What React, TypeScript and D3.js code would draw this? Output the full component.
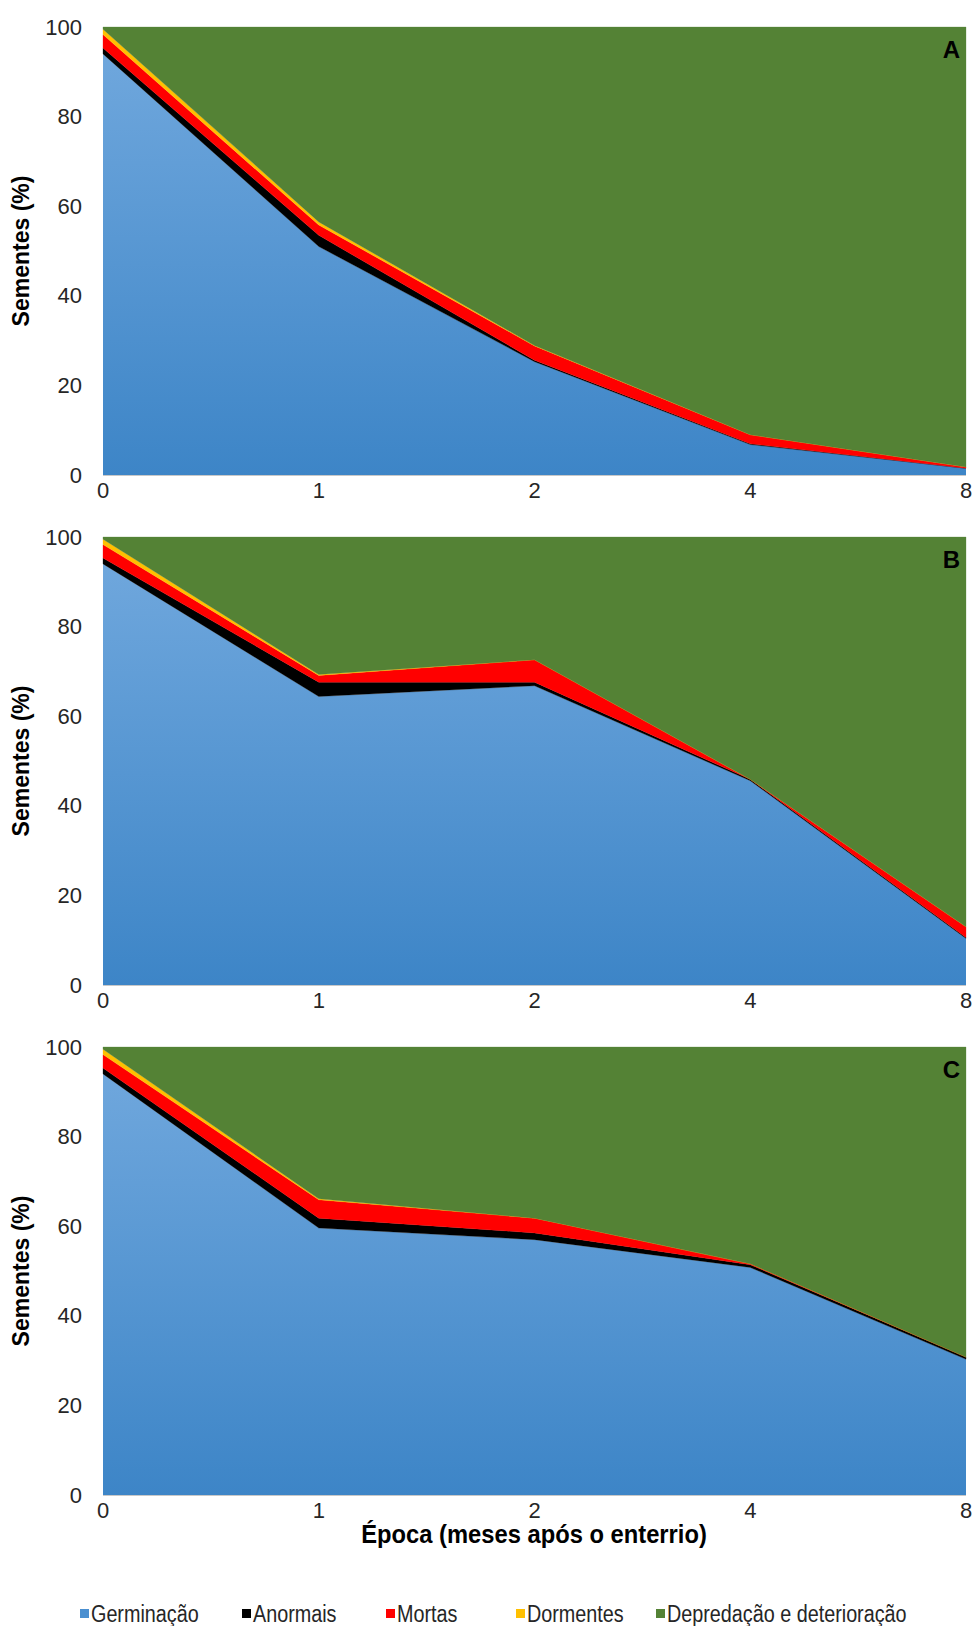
import React from "react";
import * as d3 from "d3";

// Burial period (months after burial), categorical axis
const epocas = ["0", "1", "2", "4", "8"];

const seriesNames = ["Germinação", "Anormais", "Mortas", "Dormentes", "Depredação e deterioração"];
const seriesColors = ["#4a8fd0", "#000000", "#ff0000", "#ffc000", "#548235"];

// Panel A (%)
const germinacaoA = [94, 51, 25.3, 6.8, 1.5];
const anormaisA = [1.3, 2.5, 0.3, 0.2, 0];
const mortasA = [3, 2.3, 3.2, 2, 0.3];
const dormentesA = [1.2, 0.7, 0.1, 0, 0];
const depredacaoA = [0.5, 43.5, 71.1, 91, 98.2];

// Panel B (%)
const germinacaoB = [94, 64.4, 66.8, 45.6, 10.4];
const anormaisB = [1.3, 3.2, 0.8, 0.3, 0.2];
const mortasB = [3, 1.5, 5, 0, 2.4];
const dormentesB = [1.2, 0.2, 0, 0, 0];
const depredacaoB = [0.5, 30.7, 27.4, 54.1, 87];

// Panel C (%)
const germinacaoC = [94, 59.6, 57, 50.8, 30.3];
const anormaisC = [1.3, 2.2, 1.5, 0.6, 0.5];
const mortasC = [3, 4.1, 3.3, 0.2, 0];
const dormentesC = [1.2, 0.2, 0, 0, 0];
const depredacaoC = [0.5, 33.9, 38.2, 48.4, 69.2];

const yTicks = [0, 20, 40, 60, 80, 100];

const panels = [
  { letter: "A", values: [germinacaoA, anormaisA, mortasA, dormentesA, depredacaoA] },
  { letter: "B", values: [germinacaoB, anormaisB, mortasB, dormentesB, depredacaoB] },
  { letter: "C", values: [germinacaoC, anormaisC, mortasC, dormentesC, depredacaoC] },
];

const W = 975;
const H = 1626;
const plotLeft = 103;
const plotRight = 966;
const panelTop0 = 27;
const panelStep = 510;
const panelHeight = 448;

const legendX = [80, 242, 386, 516, 656];

const baseFont = "Arial, 'Liberation Sans', sans-serif";

function Panel({ index, letter, values }: { index: number; letter: string; values: number[][] }) {
  const top = panelTop0 + index * panelStep;
  const bottom = top + panelHeight;
  const x = d3.scalePoint<string>().domain(epocas).range([plotLeft, plotRight]);
  const y = d3.scaleLinear().domain([0, 100]).range([bottom, top]);

  const rows = epocas.map((e, i) => {
    const row: Record<string, any> = { epoca: e };
    seriesNames.forEach((s, k) => (row[s] = values[k][i]));
    return row;
  });
  const stacked = d3.stack<any>().keys(seriesNames)(rows);
  const area = d3
    .area<any>()
    .x((d) => x(d.data.epoca) as number)
    .y0((d) => y(d[0]))
    .y1((d) => y(d[1]));

  const gradId = `germ-grad-${index}`;
  const cy = (top + bottom) / 2;

  return (
    <g>
      <defs>
        <linearGradient id={gradId} gradientUnits="userSpaceOnUse" x1={0} y1={top} x2={0} y2={bottom}>
          <stop offset="0%" stopColor="#72a9de" />
          <stop offset="100%" stopColor="#3d85c7" />
        </linearGradient>
      </defs>
      {stacked.map((layer, k) => (
        <path
          key={layer.key}
          d={area(layer) || ""}
          fill={k === 0 ? `url(#${gradId})` : seriesColors[k]}
          stroke={k === 0 ? "none" : seriesColors[k]}
          strokeWidth={k === 0 ? 0 : 0.3}
        />
      ))}
      <line x1={plotLeft} x2={plotRight} y1={bottom + 0.5} y2={bottom + 0.5} stroke="#c8c8c8" strokeWidth={1} />
      {yTicks.map((t) => (
        <text
          key={t}
          x={82}
          y={y(t)}
          textAnchor="end"
          dominantBaseline="central"
          fontFamily={baseFont}
          fontSize={22}
          fill="#262626"
        >
          {t}
        </text>
      ))}
      {epocas.map((e) => (
        <text
          key={e}
          x={x(e)}
          y={bottom + 15}
          textAnchor="middle"
          dominantBaseline="central"
          fontFamily={baseFont}
          fontSize={22}
          fill="#262626"
        >
          {e}
        </text>
      ))}
      <text
        transform={`translate(21,${cy}) rotate(-90)`}
        textAnchor="middle"
        dominantBaseline="central"
        fontFamily={baseFont}
        fontWeight="bold"
        fontSize={23}
        fill="#000"
      >
        Sementes (%)
      </text>
      <text
        x={960}
        y={top + 31}
        textAnchor="end"
        fontFamily={baseFont}
        fontWeight="bold"
        fontSize={24}
        fill="#000"
      >
        {letter}
      </text>
    </g>
  );
}

export default function App() {
  const lastBottom = panelTop0 + 2 * panelStep + panelHeight;
  return (
    <svg
      width={W}
      height={H}
      viewBox={`0 0 ${W} ${H}`}
      style={{ position: "absolute", left: 0, top: 0, background: "#fff" }}
    >
      <rect x={0} y={0} width={W} height={H} fill="#fff" />
      {panels.map((p, i) => (
        <Panel key={p.letter} index={i} letter={p.letter} values={p.values} />
      ))}
      <text
        transform={`translate(534,${lastBottom + 48}) scale(0.95,1)`}
        textAnchor="middle"
        fontFamily={baseFont}
        fontWeight="bold"
        fontSize={25}
        fill="#000"
      >
        Época (meses após o enterrio)
      </text>
      {seriesNames.map((s, k) => (
        <g key={s} transform={`translate(${legendX[k]},1614)`}>
          <rect x={0} y={-5} width={9} height={9} fill={k === 0 ? "#4a8fd0" : seriesColors[k]} />
          <text
            transform="translate(11,0) scale(0.86,1)"
            dominantBaseline="central"
            fontFamily={baseFont}
            fontSize={23}
            fill="#262626"
          >
            {s}
          </text>
        </g>
      ))}
    </svg>
  );
}
